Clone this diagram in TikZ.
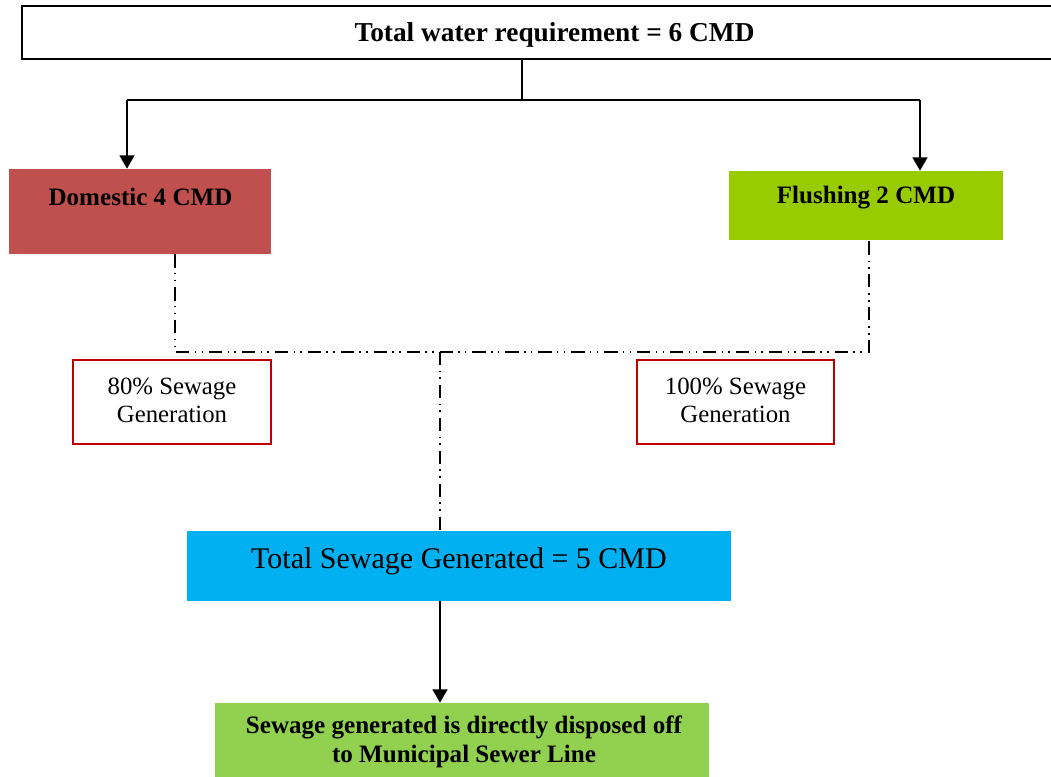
\documentclass[tikz,border=0pt]{standalone}
\usepackage{fontspec}
\setmainfont{Liberation Serif}
\usetikzlibrary{arrows.meta}
\definecolor{domred}{HTML}{C0504D}
\definecolor{flushgreen}{HTML}{99CC00}
\definecolor{sewblue}{HTML}{00B0F0}
\definecolor{dispgreen}{HTML}{92D050}
\definecolor{borderred}{HTML}{C00000}
\tikzset{
  solidline/.style={line width=1.7pt, draw=black},
  arrowline/.style={solidline, -{Triangle[width=11pt,length=10pt]}},
  ddline/.style={line width=1.15pt, draw=black, dash pattern=on 10pt off 4pt on 1.1pt off 4pt on 1.1pt off 4.5pt},
  fillbox/.style={rectangle, inner sep=0pt, draw=none},
  redbox/.style={rectangle, inner sep=0pt, draw=borderred, line width=1.3pt, fill=white},
  boldtxt/.style={inner sep=0pt, font=\fontsize{18.8pt}{21.8pt}\selectfont\bfseries, align=center},
  normtxt/.style={inner sep=0pt, font=\fontsize{18.6pt}{21pt}\selectfont, align=center},
}
\begin{document}
\begin{tikzpicture}[x=0.75pt,y=-0.75pt]
\useasboundingbox (0,0) rectangle (1051,776);
% top box
\node[rectangle, draw=black, line width=1.7pt, inner sep=0pt, minimum width=774pt, minimum height=39.75pt] (top) at (538,32.5) {};
\node[inner sep=0pt, font=\fontsize{20.5pt}{24pt}\selectfont\bfseries] (toptxt) at (554.5,35) {Total water requirement = 6 CMD};
% domestic / flushing
\node[fillbox, fill=domred, minimum width=196.5pt, minimum height=63.75pt] (dom) at (140,211.5) {};
\node[boldtxt] (domtxt) at (140.5,197) {Domestic 4 CMD};
\node[fillbox, fill=flushgreen, minimum width=205.5pt, minimum height=51.75pt] (flush) at (866,205.5) {};
\node[boldtxt] (flushtxt) at (866,198) {Flushing 2 CMD};
% sewage percentage boxes
\node[redbox, minimum width=148.5pt, minimum height=63pt] (p80) at (172,402) {};
\node[normtxt] (p80txt) at (172,400) {80\% Sewage\\Generation};
\node[redbox, minimum width=147.75pt, minimum height=63pt] (p100) at (735.5,402) {};
\node[normtxt] (p100txt) at (735.5,400) {100\% Sewage\\Generation};
% total sewage
\node[fillbox, fill=sewblue, minimum width=408pt, minimum height=52.5pt] (sew) at (459,566) {};
\node[inner sep=0pt, font=\fontsize{22.5pt}{26pt}\selectfont] (sewtxt) at (459,561) {Total Sewage Generated = 5 CMD};
% disposal
\node[fillbox, fill=dispgreen, minimum width=370.5pt, minimum height=55.5pt] (disp) at (462,740) {};
\node[boldtxt] (disptxt) at (464,742) {Sewage generated is directly disposed off\\to Municipal Sewer Line};
% solid connectors
\coordinate (j1) at (522,100);
\coordinate (aL) at (127,100);
\coordinate (aR) at (920,100);
\draw[solidline] (top.south -| j1) -- (j1);
\draw[solidline] (aL) -- (aR);
\draw[arrowline] (aL) -- (dom.north -| aL);
\draw[arrowline] (aR) -- (flush.north -| aR);
% dash-dot-dot connectors
\coordinate (dL) at (175,352);
\coordinate (dR) at (869,352);
\coordinate (dM) at (440,352);
\draw[ddline] (dom.south -| dL) -- (dL) -- (dR) -- (flush.south -| dR);
\draw[ddline] (dM) -- (sew.north -| dM);
% final arrow
\draw[arrowline] (sew.south -| dM) -- (disp.north -| dM);
\end{tikzpicture}
\end{document}
